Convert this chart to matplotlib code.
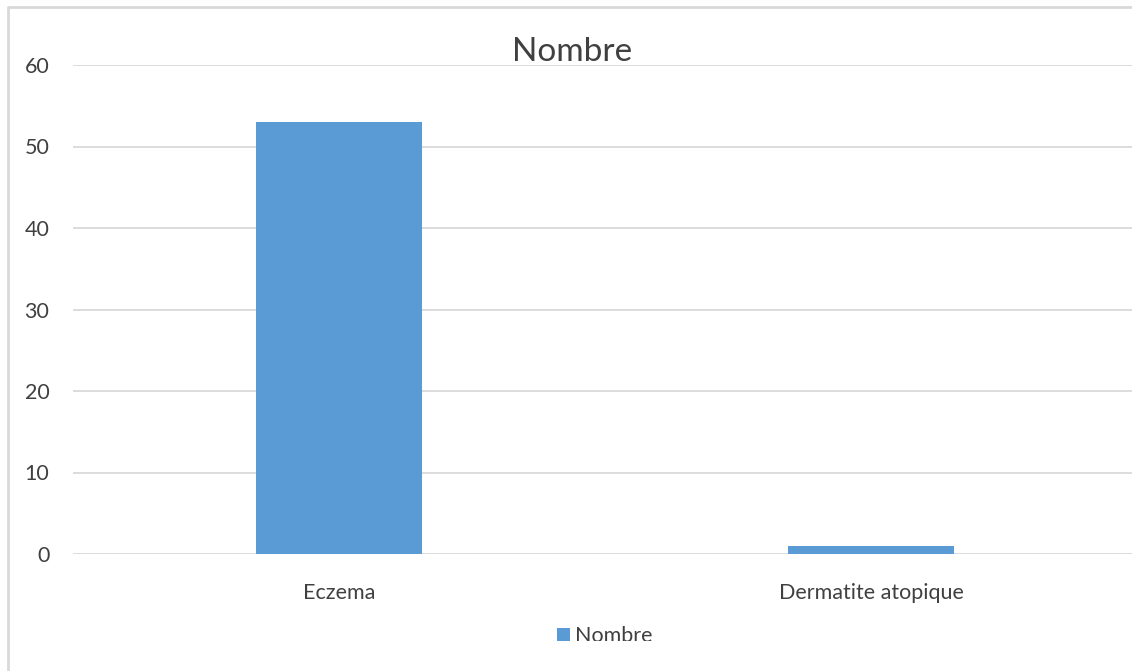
import matplotlib.pyplot as plt
from matplotlib.lines import Line2D
from matplotlib.transforms import Bbox

categories = ['Eczema', 'Dermatite atopique']
counts = [53, 1]
series_name = 'Nombre'
y_ticks = [0, 10, 20, 30, 40, 50, 60]

BAR_COLOR = '#5B9BD5'
GRID_COLOR = '#D9D9D9'
TEXT_COLOR = '#404040'

plt.rcParams['font.family'] = ['Lato', 'DejaVu Sans']

W, H = 1132, 671
fig = plt.figure(figsize=(W / 100, H / 100), dpi=100)

# axes run past the right edge, like the cropped original
left, right = 73 / W, 1137 / W
bottom, top = 1 - 554 / H, 1 - 65 / H
ax = fig.add_axes([left, bottom, right - left, top - bottom])

x = list(range(len(categories)))
ax.bar(x, counts, width=0.312, color=BAR_COLOR, zorder=3, label=series_name)

ax.set_xlim(-0.5, 1.5)
ax.set_ylim(0, 60)
ax.set_yticks(y_ticks)
ax.set_xticks(x)
ax.set_xticklabels(categories)
ax.tick_params(axis='both', length=0, labelsize=15.5, colors=TEXT_COLOR)
ax.tick_params(axis='y', pad=17)
ax.tick_params(axis='x', pad=21)
ax.grid(axis='y', color=GRID_COLOR, linewidth=1.3, zorder=0)
for spine in ax.spines.values():
    spine.set_visible(False)

fig.text(572 / W, 1 - 52 / H, series_name, ha='center', va='center',
         fontsize=24, color=TEXT_COLOR)

leg = ax.legend(loc='center', bbox_to_anchor=(0.5, -0.168), frameon=False,
                fontsize=15.5, handlelength=0.6, handleheight=0.6,
                handletextpad=0.25, labelcolor=TEXT_COLOR)
# the original legend text is cut off at the bottom
for txt in leg.get_texts():
    txt.set_clip_on(True)
    txt.set_clip_box(Bbox([[0, H - 641], [W, H]]))

# chart border: only its left and top edges show in the crop
fig.lines.append(Line2D([8 / W, 8 / W, 1], [0, 1 - 7 / H, 1 - 7 / H],
                        transform=fig.transFigure, color=GRID_COLOR,
                        linewidth=2))

fig.savefig('out.png', dpi=100, facecolor='white')
